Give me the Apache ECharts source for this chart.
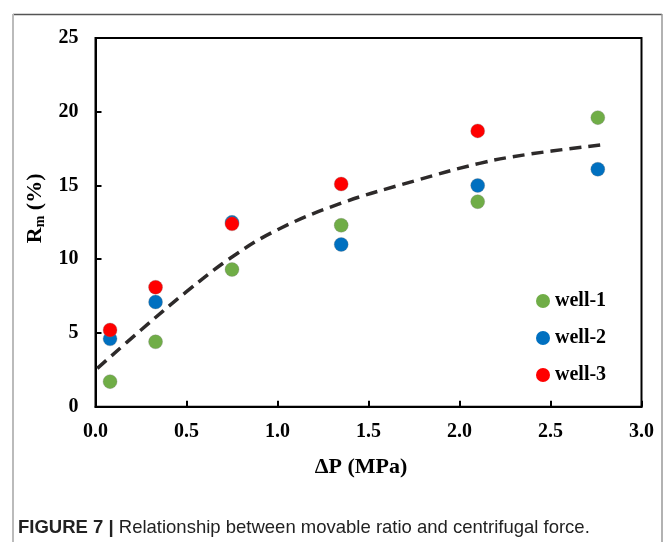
<!DOCTYPE html>
<html>
<head>
<meta charset="utf-8">
<script src="https://cdn.jsdelivr.net/npm/echarts@6/dist/echarts.min.js"></script>
<style>
  html, body { margin: 0; padding: 0; background: #fff; }
  #chart { width: 665px; height: 542px; }
</style>
</head>
<body>
<div id="chart"></div>
<script>
// ---- data ----
const pressure = [0.08, 0.33, 0.75, 1.35, 2.10, 2.76];          // ΔP (MPa)
const well1 = [1.7, 4.4, 9.3, 12.3, 13.9, 19.6];
const well2 = [4.6, 7.1, 12.5, 11.0, 15.0, 16.1];
const well3 = [5.2, 8.1, 12.4, 15.1, 18.7];
const trendX = [0.01, 0.25, 0.5, 0.75, 1.0, 1.35, 1.75, 2.11, 2.37, 2.79];
const trendY = [2.6, 5.2, 7.8, 10.15, 12.0, 13.8, 15.3, 16.5, 17.1, 17.77];
const seriesNames = ['well-1', 'well-2', 'well-3'];
const xTicks = { min: 0, max: 3, interval: 0.5 };
const yTicks = { min: 0, max: 25, interval: 5 };

const pairs = (xs, ys) => ys.map((v, i) => [xs[i], v]);

const serif = '"Liberation Serif", "Times New Roman", serif';
const sans = '"Liberation Sans", Arial, sans-serif';
const chart = echarts.init(document.getElementById('chart'), null, { renderer: 'canvas' });

const option = {
  backgroundColor: '#fff',
  animation: false,
  title: {
    text: '{b|FIGURE 7 |} Relationship between movable ratio and centrifugal force.',
    left: 18,
    top: 518,
    padding: 0,
    textStyle: {
      rich: {
        b: { fontFamily: sans, fontSize: 18.5, fontWeight: 'bold', color: '#222' }
      },
      fontFamily: sans,
      fontSize: 18.5,
      fontWeight: 'normal',
      color: '#222'
    }
  },
  graphic: [
    { type: 'line', shape: { x1: 13, y1: 14.5, x2: 662, y2: 14.5 }, style: { stroke: '#555', lineWidth: 1.5 } },
    { type: 'line', shape: { x1: 13, y1: 14, x2: 13, y2: 542 }, style: { stroke: '#bbb', lineWidth: 2 } },
    { type: 'line', shape: { x1: 662, y1: 14, x2: 662, y2: 542 }, style: { stroke: '#999', lineWidth: 1.5 } }
  ],
  legend: {
    data: seriesNames,
    orient: 'vertical',
    left: 536,
    top: 291,
    padding: 0,
    itemWidth: 14,
    itemHeight: 14,
    itemGap: 17,
    itemTextGap: 8,
    icon: 'circle',
    itemStyle: { borderWidth: 0 },
    textStyle: { fontFamily: serif, fontSize: 20, fontWeight: 'bold', color: '#000' }
  },
  grid: {
    left: 95.5, right: 23.5, top: 38, bottom: 135.3,
    show: true, borderColor: '#000', borderWidth: 2, backgroundColor: 'transparent'
  },
  xAxis: {
    type: 'value',
    min: xTicks.min, max: xTicks.max, interval: xTicks.interval,
    name: 'ΔP (MPa)',
    nameLocation: 'middle',
    nameGap: 50,
    nameTextStyle: { fontFamily: serif, fontSize: 22, fontWeight: 'bold', color: '#000', padding: [0, 15, 0, 0] },
    axisLine: { show: true, lineStyle: { color: '#000', width: 2 } },
    axisTick: { show: true, inside: true, length: 6, lineStyle: { color: '#000', width: 2 } },
    axisLabel: { margin: 15, fontFamily: serif, fontSize: 20, fontWeight: 'bold', color: '#000',
      formatter: v => v.toFixed(1) },
    splitLine: { show: false }
  },
  yAxis: {
    type: 'value',
    min: yTicks.min, max: yTicks.max, interval: yTicks.interval,
    name: '{a|R}{b|m}{a| (%)}',
    nameLocation: 'middle',
    nameGap: 47,
    nameRotate: 90,
    nameTextStyle: {
      padding: [0, 0, 0, 28],
      rich: {
        a: { fontFamily: serif, fontSize: 22, fontWeight: 'bold', color: '#000', lineHeight: 24, verticalAlign: 'middle' },
        b: { fontFamily: serif, fontSize: 14, fontWeight: 'bold', color: '#000', lineHeight: 14, verticalAlign: 'bottom', padding: [15, 0, 0, 0] }
      }
    },
    axisLine: { show: true, lineStyle: { color: '#000', width: 2 } },
    axisTick: { show: true, inside: true, length: 6, lineStyle: { color: '#000', width: 2 } },
    axisLabel: { margin: 17, fontFamily: serif, fontSize: 20, fontWeight: 'bold', color: '#000' },
    splitLine: { show: false }
  },
  series: [
    {
      name: 'trend', type: 'line', data: pairs(trendX, trendY), smooth: 0.4,
      showSymbol: false, symbol: 'none', z: 1,
      lineStyle: { color: '#2d2a2a', width: 3.5, type: [12, 7] }
    },
    {
      name: seriesNames[0], type: 'scatter', data: pairs(pressure, well1), symbolSize: 14, z: 3,
      itemStyle: { color: '#70AD47', borderColor: 'rgba(120,120,120,0.6)', borderWidth: 0.5, opacity: 1 }
    },
    {
      name: seriesNames[1], type: 'scatter', data: pairs(pressure, well2), symbolSize: 14, z: 3,
      itemStyle: { color: '#0070C0', borderColor: 'rgba(120,120,120,0.6)', borderWidth: 0.5, opacity: 1 }
    },
    {
      name: seriesNames[2], type: 'scatter', data: pairs(pressure, well3), symbolSize: 14, z: 4,
      itemStyle: { color: '#FF0000', borderColor: 'rgba(120,120,120,0.6)', borderWidth: 0.5, opacity: 1 }
    }
  ]
};
chart.setOption(option);
</script>
</body>
</html>
